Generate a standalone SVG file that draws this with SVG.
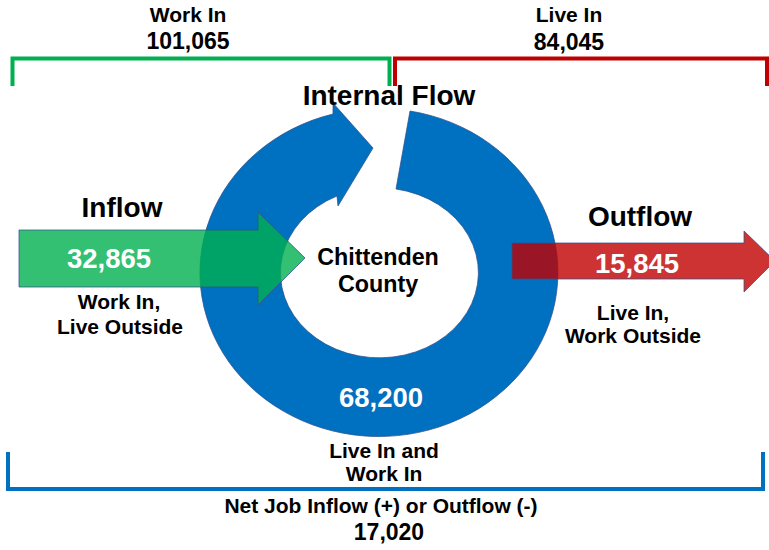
<svg xmlns="http://www.w3.org/2000/svg" width="769" height="550" viewBox="0 0 769 550">
<style>
text{font-family:"Liberation Sans",Arial,sans-serif;font-weight:bold;text-anchor:middle;fill:#000}
.w{fill:#fff}
.t{font-size:28px}
.s{font-size:21px}
.n{font-size:23px}
.v{font-size:27.5px}
.br{fill:none;stroke-width:4}
.edge{stroke:#2F528F;stroke-width:0.75}
</style>
<rect width="769" height="550" fill="#fff"/>
<g id="connectors">
<path class="br" stroke="#00B050" d="M12.5 86V58.5H389.5V86"/>
<path class="br" stroke="#C00000" d="M395 86V58.5H767V86"/>
<path class="br" stroke="#0070C0" d="M8 452V489H763V452"/>
</g>
<g id="internal-flow">
<path class="edge" fill="#0070C0" d="M410 111A179 164 0 1 1 333 114L333 103L373 148L338 206L337 196A99 85 0 1 0 396 189Z"/>
<text class="t" x="389" y="105">Internal Flow</text>
<text class="v w" x="381" y="407">68,200</text>
<text class="s" x="384" y="458">Live In and</text>
<text class="s" x="384" y="481">Work In</text>
</g>
<g id="county">
<text style="font-size:23.3px" x="378" y="265">Chittenden</text>
<text style="font-size:23.3px" x="378" y="292">County</text>
</g>
<g id="inflow">
<path class="edge" fill="#00B050" fill-opacity="0.8" d="M19 230H258V212L305 258L258 305V287H19Z"/>
<text class="t" x="122" y="217">Inflow</text>
<text class="v w" x="109" y="268">32,865</text>
<text class="s" x="119" y="309">Work In,</text>
<text class="s" x="120" y="334">Live Outside</text>
</g>
<g id="outflow">
<path class="edge" fill="#C00000" fill-opacity="0.8" d="M512 243H744V231L775 261L744 292V279H512Z"/>
<text class="t" x="640" y="226">Outflow</text>
<text class="v w" x="637" y="273">15,845</text>
<text class="s" x="633" y="320">Live In,</text>
<text class="s" x="633" y="343">Work Outside</text>
</g>
<g id="work-in">
<text class="s" x="188" y="22">Work In</text>
<text class="n" x="188" y="49">101,065</text>
</g>
<g id="live-in">
<text class="s" x="569" y="22">Live In</text>
<text class="n" x="569" y="50">84,045</text>
</g>
<g id="net">
<text class="s" x="381" y="513">Net Job Inflow (+) or Outflow (-)</text>
<text class="n" x="389" y="540">17,020</text>
</g>
</svg>
